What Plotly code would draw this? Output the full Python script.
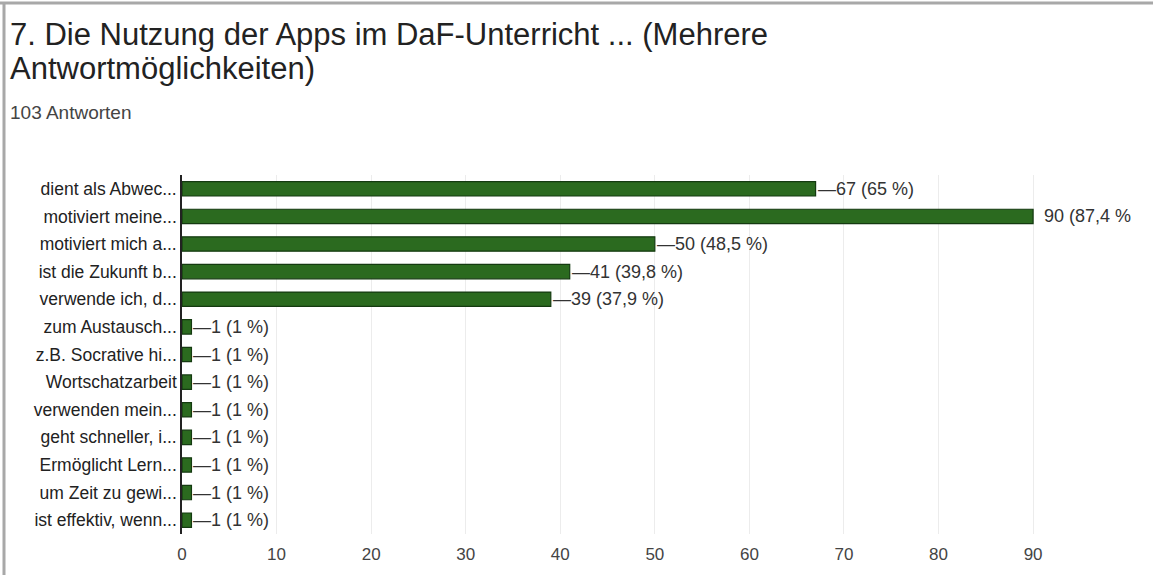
import plotly.graph_objects as go

categories = [
    "dient als Abwec...", "motiviert meine...", "motiviert mich a...",
    "ist die Zukunft b...", "verwende ich, d...", "zum Austausch...",
    "z.B. Socrative hi...", "Wortschatzarbeit", "verwenden mein...",
    "geht schneller, i...", "Ermöglicht Lern...", "um Zeit zu gewi...",
    "ist effektiv, wenn...",
]
counts = [67, 90, 50, 41, 39, 1, 1, 1, 1, 1, 1, 1, 1]
percents = ["65 %", "87,4 %", "48,5 %", "39,8 %", "37,9 %", "1 %", "1 %", "1 %",
            "1 %", "1 %", "1 %", "1 %", "1 %"]
tick_vals = [0, 10, 20, 30, 40, 50, 60, 70, 80, 90]

title_line1 = "7. Die Nutzung der Apps im DaF-Unterricht ... (Mehrere"
title_line2 = "Antwortmöglichkeiten)"
subtitle = "103 Antworten"

W, H = 1153, 575
L, R, T, B = 182, 101, 175, 41
pw, ph = W - L - R, H - T - B

def px_x(p):
    return (p - L) / pw

def px_y(p):
    return (H - B - p) / ph

FONT = "Liberation Sans, Arial, sans-serif"

fig = go.Figure()
fig.add_trace(go.Bar(
    x=counts, y=categories, orientation="h",
    marker=dict(color="#2b6a1f", line=dict(color="#143a10", width=1.2)),
    width=0.52, hoverinfo="skip",
))

annotations = []
for c, y, p in zip(counts, categories, percents):
    if c == max(counts):
        txt = f"{c} ({p}"
        xs = 9
    else:
        txt = f"\u2014{c} ({p})"
        xs = 0
    annotations.append(dict(x=c, y=y, xref="x", yref="y", text=txt,
                            showarrow=False, xanchor="left", xshift=xs,
                            font=dict(family=FONT, size=18, color="#333333")))

annotations += [
    dict(x=px_x(8), y=px_y(35), xref="paper", yref="paper", text=title_line1,
         showarrow=False, xanchor="left", yanchor="middle",
         font=dict(family=FONT, size=31, color="#222222")),
    dict(x=px_x(8), y=px_y(68), xref="paper", yref="paper", text=title_line2,
         showarrow=False, xanchor="left", yanchor="middle",
         font=dict(family=FONT, size=31, color="#222222")),
    dict(x=px_x(8), y=px_y(112), xref="paper", yref="paper", text=subtitle,
         showarrow=False, xanchor="left", yanchor="middle",
         font=dict(family=FONT, size=19, color="#444444")),
]

shapes = [
    dict(type="line", xref="paper", yref="paper", x0=px_x(0), x1=px_x(W),
         y0=px_y(3), y1=px_y(3), line=dict(color="#a8a8a8", width=3)),
    dict(type="line", xref="paper", yref="paper", x0=px_x(4), x1=px_x(4),
         y0=px_y(2), y1=px_y(H), line=dict(color="#a8a8a8", width=3)),
]

fig.update_layout(
    width=W, height=H,
    margin=dict(l=L, r=R, t=T, b=B, pad=0),
    paper_bgcolor="white", plot_bgcolor="white",
    showlegend=False,
    annotations=annotations, shapes=shapes,
    xaxis=dict(range=[0, 92], tickvals=tick_vals, showgrid=True,
               gridcolor="#ececec", gridwidth=1, zeroline=False,
               showline=False, ticks="", ticklabelstandoff=8,
               tickfont=dict(family=FONT, size=17, color="#444444")),
    yaxis=dict(autorange="reversed", showline=True, linecolor="#222222",
               linewidth=1.5, ticks="", showgrid=False, automargin=False,
               tickfont=dict(family=FONT, size=17.5, color="#222222")),
    bargap=0.48,
)

fig.write_html(
    "out.html",
    config={"displayModeBar": False},
    post_script=("document.body.style.margin='0';document.body.style.padding='0';"
                 "document.documentElement.style.overflow='hidden';"),
)
